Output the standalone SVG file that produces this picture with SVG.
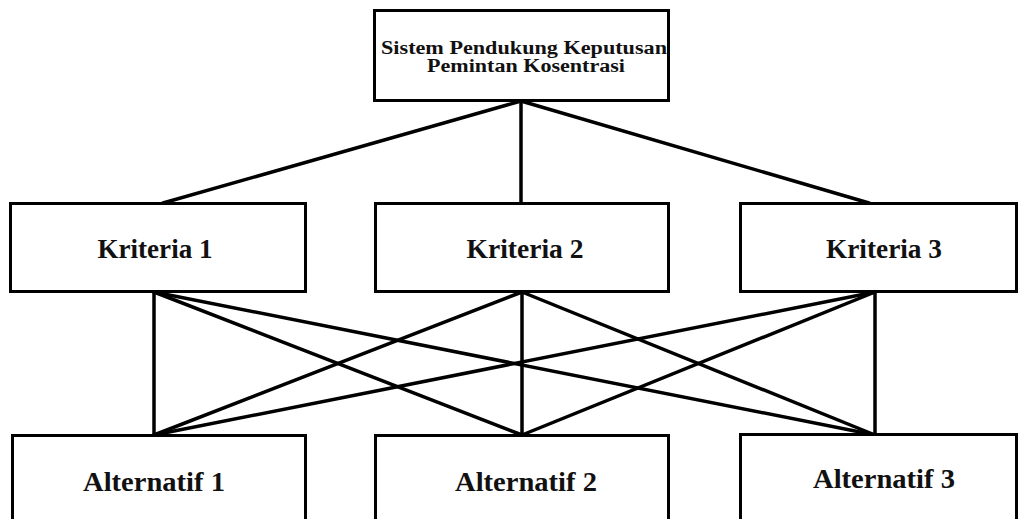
<svg xmlns="http://www.w3.org/2000/svg" width="1019" height="519" viewBox="0 0 1019 519">
<style>
.box{fill:#fff;stroke:#000;stroke-width:3}
.lbl{font-family:"Liberation Serif",serif;font-weight:bold;fill:#111;text-anchor:middle}
.c{stroke:#000;stroke-width:3.5;fill:none;stroke-linecap:round}
</style>
<rect width="1019" height="519" fill="#fff"/>
<g id="connectors">
<line class="c" x1="521" y1="101" x2="163" y2="203"/>
<line class="c" x1="521" y1="101" x2="521" y2="203"/>
<line class="c" x1="521" y1="101" x2="869" y2="203"/>
<line class="c" x1="154" y1="292" x2="154" y2="435"/>
<line class="c" x1="154" y1="292" x2="522" y2="435"/>
<line class="c" x1="154" y1="292" x2="875" y2="435"/>
<line class="c" x1="522" y1="292" x2="154" y2="435"/>
<line class="c" x1="522" y1="292" x2="522" y2="435"/>
<line class="c" x1="522" y1="292" x2="875" y2="435"/>
<line class="c" x1="875" y1="292" x2="154" y2="435"/>
<line class="c" x1="875" y1="292" x2="522" y2="435"/>
<line class="c" x1="875" y1="292" x2="875" y2="435"/>
</g>
<g id="goal">
<rect class="box" x="374.5" y="10.5" width="294" height="90"/>
<text class="lbl" x="524" y="54" font-size="18" textLength="286" lengthAdjust="spacingAndGlyphs">Sistem Pendukung Keputusan</text>
<text class="lbl" x="526" y="72" font-size="18" textLength="198" lengthAdjust="spacingAndGlyphs">Pemintan Kosentrasi</text>
</g>
<g id="kriteria1">
<rect class="box" x="10.5" y="203.5" width="295" height="88"/>
<text class="lbl" x="155" y="258" font-size="27" textLength="115" lengthAdjust="spacingAndGlyphs">Kriteria 1</text>
</g>
<g id="kriteria2">
<rect class="box" x="375.5" y="203.5" width="293" height="88"/>
<text class="lbl" x="525" y="258" font-size="27" textLength="117" lengthAdjust="spacingAndGlyphs">Kriteria 2</text>
</g>
<g id="kriteria3">
<rect class="box" x="740.5" y="203.5" width="276" height="88"/>
<text class="lbl" x="884" y="258" font-size="27" textLength="116" lengthAdjust="spacingAndGlyphs">Kriteria 3</text>
</g>
<g id="alternatif1">
<rect class="box" x="12.5" y="435.5" width="293" height="100"/>
<text class="lbl" x="154" y="491" font-size="27" textLength="142" lengthAdjust="spacingAndGlyphs">Alternatif 1</text>
</g>
<g id="alternatif2">
<rect class="box" x="375.5" y="435.5" width="293" height="100"/>
<text class="lbl" x="526" y="491" font-size="27" textLength="142" lengthAdjust="spacingAndGlyphs">Alternatif 2</text>
</g>
<g id="alternatif3">
<rect class="box" x="740.5" y="434.5" width="276" height="100"/>
<text class="lbl" x="884" y="488" font-size="27" textLength="142" lengthAdjust="spacingAndGlyphs">Alternatif 3</text>
</g>
</svg>
